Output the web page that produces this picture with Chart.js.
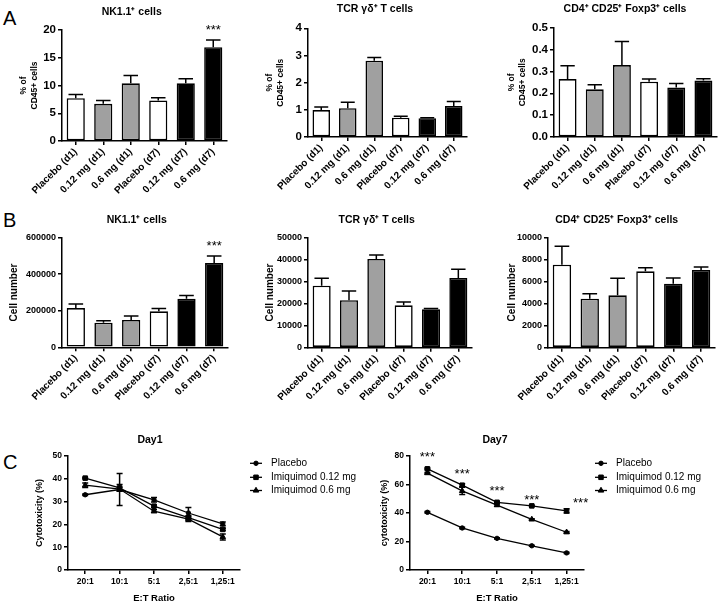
<!DOCTYPE html>
<html>
<head>
<meta charset="utf-8">
<script src="https://cdn.jsdelivr.net/npm/chart.js@4.4.1/dist/chart.umd.min.js"></script>
<style>
  body { margin: 0; background: #fff; width: 723px; height: 605px; position: relative; overflow: hidden;
         font-family: 'Liberation Sans', Arial, sans-serif; }
  canvas { position: absolute; }
  .letter { position: absolute; font-size: 20px; line-height: 20px; color: #000; }
</style>
</head>
<body>
<div class="letter" style="left:3px;top:8px">A</div>
<div class="letter" style="left:3px;top:210px">B</div>
<div class="letter" style="left:3px;top:452px">C</div>

<canvas id="a1" width="240" height="200" style="left:0;top:0"></canvas>
<canvas id="a2" width="240" height="200" style="left:240px;top:0"></canvas>
<canvas id="a3" width="243" height="200" style="left:480px;top:0"></canvas>
<canvas id="b1" width="240" height="200" style="left:0;top:200px"></canvas>
<canvas id="b2" width="240" height="200" style="left:240px;top:200px"></canvas>
<canvas id="b3" width="243" height="200" style="left:480px;top:200px"></canvas>
<canvas id="c1" width="360" height="185" style="left:0;top:420px"></canvas>
<canvas id="c2" width="363" height="185" style="left:360px;top:420px"></canvas>

<script>
// ---- data ----
const groups    = ['Placebo (d1)', '0.12 mg (d1)', '0.6 mg (d1)', 'Placebo (d7)', '0.12 mg (d7)', '0.6 mg (d7)'];
const barColors = ['#ffffff', '#a0a0a0', '#a0a0a0', '#ffffff', '#000000', '#000000'];

// % of CD45+ cells
const nkPct      = [7.7, 6.7, 10.4, 7.3, 10.4, 16.9];
const nkPctErr   = [0.7, 0.6, 1.4, 0.5, 0.8, 1.3];
const tcrPct     = [0.99, 1.06, 2.81, 0.71, 0.69, 1.14];
const tcrPctErr  = [0.11, 0.22, 0.12, 0.05, 0.02, 0.17];
const tregPct    = [0.265, 0.218, 0.329, 0.253, 0.226, 0.258];
const tregPctErr = [0.061, 0.021, 0.108, 0.012, 0.019, 0.009];

// cell numbers
const nkNum      = [215000, 135000, 150000, 197000, 266000, 461000];
const nkNumErr   = [22000, 11000, 21000, 15000, 18000, 39000];
const tcrNum     = [28100, 21500, 40200, 19200, 17400, 31600];
const tcrNumErr  = [3300, 4200, 1800, 1500, 400, 3900];
const tregNum    = [7520, 4440, 4740, 6920, 5800, 7040];
const tregNumErr = [1660, 450, 1540, 330, 510, 270];

const nkStars = ['', '', '', '', '', '***'];
const noStars = ['', '', '', '', '', ''];

// cytotoxicity
const ratios      = ['20:1', '10:1', '5:1', '2,5:1', '1,25:1'];
const seriesNames = ['Placebo', 'Imiquimod 0.12 mg', 'Imiquimod 0.6 mg'];

const d1Placebo    = [33.0, 35.3, 30.8, 25.0, 20.2];
const d1Placebo_e  = [0.3, 7.0, 1.0, 2.4, 0.8];
const d1Low        = [40.3, 36.0, 28.0, 23.0, 17.8];
const d1Low_e      = [0.3, 1.5, 0.5, 0.8, 0.5];
const d1High       = [37.2, 35.5, 25.8, 22.3, 14.5];
const d1High_e     = [1.0, 0.8, 0.6, 1.0, 1.3];

const d7Placebo    = [40.5, 29.5, 22.2, 17.0, 12.0];
const d7Placebo_e  = [0.5, 0.5, 0.4, 0.4, 0.4];
const d7Low        = [71.0, 59.5, 47.5, 45.0, 41.5];
const d7Low_e      = [0.5, 1.0, 0.5, 0.5, 1.5];
const d7High       = [68.0, 55.5, 45.5, 35.5, 26.5];
const d7High_e     = [0.5, 2.5, 0.8, 0.5, 0.5];

const d7Stars      = ['***', '***', '***', '***', '***'];
const d7StarLevel  = [81, 69, 57.5, 51, 49];

// ---- setup ----
const FONT = "'Liberation Sans', Arial, sans-serif";
Chart.defaults.font.family = FONT;
Chart.defaults.color = '#000';

const gridOpts = { offset: false, drawOnChartArea: false, drawTicks: true, tickLength: 4, color: '#000', lineWidth: 1.5 };
const borderOpts = { display: true, color: '#000', width: 1.5 };

// invisible right-hand axis, only used to shift the centred title
function spacerAxis(w) {
  return {
    position: 'right', display: true,
    grid: { display: false }, border: { display: false }, ticks: { display: false },
    afterFit: s => { s.width = w; }
  };
}

function errorBars(errs, both, capHalf) {
  return {
    id: 'errbars',
    afterDatasetsDraw(chart) {
      const ctx = chart.ctx, y = chart.scales.y;
      ctx.save();
      ctx.strokeStyle = '#000';
      ctx.lineWidth = 1.5;
      chart.data.datasets.forEach((ds, i) => {
        chart.getDatasetMeta(i).data.forEach((el, j) => {
          const v = ds.data[j], e = errs[i][j];
          if (!e) return;
          const hw = capHalf || el.width * 0.4;
          const top = y.getPixelForValue(v + e);
          const bot = both ? y.getPixelForValue(v - e) : el.y;
          ctx.beginPath();
          ctx.moveTo(el.x, bot); ctx.lineTo(el.x, top);
          ctx.moveTo(el.x - hw, top); ctx.lineTo(el.x + hw, top);
          if (both) { ctx.moveTo(el.x - hw, bot); ctx.lineTo(el.x + hw, bot); }
          ctx.stroke();
        });
      });
      ctx.restore();
    }
  };
}

function starMarks(labels, getY, dxs) {
  return {
    id: 'stars',
    afterDatasetsDraw(chart) {
      const ctx = chart.ctx;
      const meta = chart.getDatasetMeta(0);
      ctx.save();
      ctx.fillStyle = '#000';
      ctx.font = '13px ' + FONT;
      ctx.textAlign = 'center';
      ctx.textBaseline = 'alphabetic';
      labels.forEach((s, j) => {
        if (!s) return;
        const x = meta.data[j].x + (dxs ? dxs[j] : 0);
        ctx.fillText(s, x, getY(chart, j));
      });
      ctx.restore();
    }
  };
}

function barChart(id, o) {
  const cv = document.getElementById(id);
  const W = cv.width, H = cv.height;
  const [al, at, ar, ab] = o.area;
  const wR = 2 * o.titleX - ar;
  const tSize = 10.5, tLh = tSize * 1.2;
  const yLh = o.yTitleSize * 1.2;
  new Chart(cv, {
    type: 'bar',
    data: {
      labels: groups,
      datasets: [{
        data: o.values,
        yAxisID: 'y',
        backgroundColor: barColors,
        borderColor: '#000',
        borderWidth: 1.6,
        borderSkipped: false,
        barPercentage: 0.66,
        categoryPercentage: 1
      }]
    },
    options: {
      responsive: false,
      animation: false,
      events: [],
      layout: { padding: { left: 0, right: W - 2 * o.titleX, top: 0, bottom: 0 } },
      plugins: {
        legend: { display: false },
        tooltip: { enabled: false },
        title: {
          display: true, text: o.title, color: '#000',
          font: { size: tSize, weight: 'bold' },
          padding: { top: o.titleY - tLh / 2, bottom: at - o.titleY - tLh / 2 }
        }
      },
      scales: {
        x: {
          grid: gridOpts, border: borderOpts,
          ticks: { minRotation: 45, maxRotation: 45, autoSkip: false, padding: 1,
                   font: { size: 10, weight: 'bold' } },
          afterFit: s => { s.height = H - ab; }
        },
        y: {
          min: 0, max: o.yMax,
          grid: gridOpts, border: borderOpts,
          ticks: { stepSize: o.yStep, padding: 2, font: { size: o.tickSize, weight: 'bold' },
                   callback: o.fmt || (v => String(v)) },
          title: {
            display: true, text: o.yTitle, color: '#000',
            font: { size: o.yTitleSize, weight: 'bold' },
            padding: { top: o.yTitleX - yLh / 2, bottom: 0 }
          },
          afterFit: s => { s.width = al; }
        },
        yr: spacerAxis(wR)
      }
    },
    plugins: [
      errorBars([o.errors], false),
      starMarks(o.stars, (chart, j) => chart.scales.y.getPixelForValue(o.values[j] + o.errors[j]) - 6)
    ]
  });
}

function sideLegend(x, ys) {
  return {
    id: 'sideLegend',
    afterDraw(chart) {
      const ctx = chart.ctx;
      ctx.save();
      ctx.fillStyle = '#000';
      ctx.strokeStyle = '#000';
      chart.data.datasets.forEach((ds, i) => {
        const y = ys[i];
        ctx.lineWidth = 1.3;
        ctx.beginPath(); ctx.moveTo(x, y); ctx.lineTo(x + 12, y); ctx.stroke();
        ctx.lineWidth = 1;
        Chart.helpers.drawPoint(ctx, { pointStyle: ds.pointStyle, radius: ds.pointRadius, rotation: 0, borderWidth: 1 }, x + 6, y);
        ctx.font = '10px ' + FONT;
        ctx.textAlign = 'left';
        ctx.textBaseline = 'middle';
        ctx.fillText(ds.label, x + 21, y);
      });
      ctx.restore();
    }
  };
}

function lineChart(id, o) {
  const cv = document.getElementById(id);
  const W = cv.width, H = cv.height;
  const [al, at, ar, ab] = o.area;
  const wR = 2 * o.titleX - ar;
  const tSize = 10.5, tLh = tSize * 1.2;
  const yLh = 9 * 1.2, xLh = 9.5 * 1.2;
  const styles = ['circle', 'rect', 'triangle'];
  const radii = [2.2, 3.2, 3.2];
  new Chart(cv, {
    type: 'line',
    data: {
      labels: ratios,
      datasets: o.series.map((s, i) => ({
        label: seriesNames[i],
        data: s,
        yAxisID: 'y',
        borderColor: '#000',
        backgroundColor: '#000',
        borderWidth: 1.3,
        pointStyle: styles[i],
        pointRadius: radii[i],
        pointBackgroundColor: '#000',
        pointBorderColor: '#000',
        pointBorderWidth: 1,
        tension: 0,
        clip: false
      }))
    },
    options: {
      responsive: false,
      animation: false,
      events: [],
      layout: { padding: { left: 0, right: W - 2 * o.titleX, top: 0, bottom: 0 } },
      plugins: {
        legend: { display: false },
        tooltip: { enabled: false },
        title: {
          display: true, text: o.title, color: '#000',
          font: { size: tSize, weight: 'bold' },
          padding: { top: o.titleY - tLh / 2, bottom: at - o.titleY - tLh / 2 }
        }
      },
      scales: {
        x: {
          offset: true,
          grid: gridOpts, border: borderOpts,
          ticks: { autoSkip: false, maxRotation: 0, padding: 3, font: { size: 8.5, weight: 'bold' } },
          title: {
            display: true, text: 'E:T Ratio', color: '#000',
            font: { size: 9.5, weight: 'bold' },
            padding: { top: 0, bottom: (H - o.xTitleY) - xLh / 2 }
          },
          afterFit: s => { s.height = H - ab; }
        },
        y: {
          min: 0, max: o.yMax,
          grid: gridOpts, border: borderOpts,
          ticks: { stepSize: o.yStep, padding: 2, font: { size: 8.5, weight: 'bold' } },
          title: {
            display: true, text: o.yTitle, color: '#000',
            font: { size: 9, weight: 'bold' },
            padding: { top: o.yTitleX - yLh / 2, bottom: 0 }
          },
          afterFit: s => { s.width = al; }
        },
        yr: spacerAxis(wR)
      }
    },
    plugins: [
      errorBars(o.errors, true, 3),
      o.stars ? starMarks(o.stars, (chart, j) => chart.scales.y.getPixelForValue(o.starLevel[j]) + 6.5, o.starDx) : { id: 'nostars' },
      sideLegend(o.legendX, [43.3, 57.3, 70.5])
    ]
  });
}

// ---- panel A ----
barChart('a1', { title: 'NK1.1\u207A cells', titleX: 131.7, titleY: 11.7, area: [62, 30, 227, 141],
  values: nkPct, errors: nkPctErr, stars: nkStars, yMax: 20, yStep: 5, tickSize: 11.5,
  yTitle: ['% of', 'CD45+ cells'], yTitleSize: 8.5, yTitleX: 24 });
barChart('a2', { title: 'TCR \u03B3\u03B4\u207A T cells', titleX: 135, titleY: 9.5, area: [68, 28.3, 227, 137],
  values: tcrPct, errors: tcrPctErr, stars: noStars, yMax: 4, yStep: 1, tickSize: 11.5,
  yTitle: ['% of', 'CD45+ cells'], yTitleSize: 8.5, yTitleX: 30 });
barChart('a3', { title: 'CD4\u207A CD25\u207A Foxp3\u207A cells', titleX: 145, titleY: 9.5, area: [74, 27.7, 237, 137],
  values: tregPct, errors: tregPctErr, stars: noStars, yMax: 0.5, yStep: 0.1, tickSize: 11.5,
  fmt: v => v.toFixed(1),
  yTitle: ['% of', 'CD45+ cells'], yTitleSize: 8.5, yTitleX: 32 });

// ---- panel B ----
barChart('b1', { title: 'NK1.1\u207A cells', titleX: 136.7, titleY: 20, area: [62, 37.7, 228, 147.3],
  values: nkNum, errors: nkNumErr, stars: nkStars, yMax: 600000, yStep: 200000, tickSize: 9,
  yTitle: 'Cell number', yTitleSize: 10, yTitleX: 14 });
barChart('b2', { title: 'TCR \u03B3\u03B4\u207A T cells', titleX: 136.7, titleY: 20, area: [68, 37.3, 232, 147.7],
  values: tcrNum, errors: tcrNumErr, stars: noStars, yMax: 50000, yStep: 10000, tickSize: 9,
  yTitle: 'Cell number', yTitleSize: 10, yTitleX: 30 });
barChart('b3', { title: 'CD4\u207A CD25\u207A Foxp3\u207A cells', titleX: 136.7, titleY: 20, area: [68, 37.3, 235, 147.7],
  values: tregNum, errors: tregNumErr, stars: noStars, yMax: 10000, yStep: 2000, tickSize: 9,
  yTitle: 'Cell number', yTitleSize: 10, yTitleX: 32 });

// ---- panel C ----
lineChart('c1', { title: 'Day1', titleX: 150, titleY: 20, area: [68, 36, 240, 150], xTitleY: 178,
  series: [d1Placebo, d1Low, d1High], errors: [d1Placebo_e, d1Low_e, d1High_e],
  yMax: 50, yStep: 10, yTitle: 'Cytotoxicity (%)', yTitleX: 40, legendX: 250 });
lineChart('c2', { title: 'Day7', titleX: 135, titleY: 20, area: [50, 36, 224, 150], xTitleY: 178,
  series: [d7Placebo, d7Low, d7High], errors: [d7Placebo_e, d7Low_e, d7High_e],
  stars: d7Stars, starLevel: d7StarLevel, starDx: [0, 0, 0, 0, 14],
  yMax: 80, yStep: 20, yTitle: 'cytotoxicity (%)', yTitleX: 25, legendX: 235 });
</script>
</body>
</html>
